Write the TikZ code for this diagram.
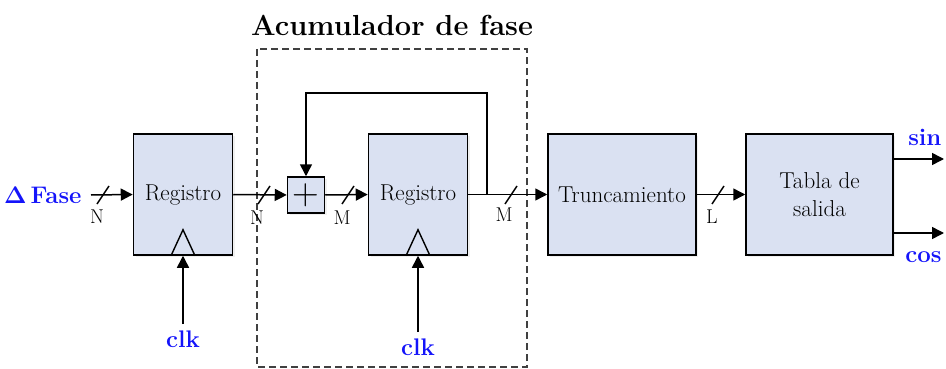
\documentclass[tikz,border=0pt]{standalone}
\usetikzlibrary{arrows.meta,shadows}
\definecolor{boxfill}{RGB}{218,225,242}
\definecolor{sigblue}{RGB}{20,20,250}
\begin{document}
\begin{tikzpicture}[x=1pt,y=-1pt,
  blk/.style={draw=black,line width=1.5pt,fill=boxfill,minimum height=121pt,
    inner sep=0pt,font=\fontsize{23}{27}\selectfont,
    drop shadow={opacity=0.12,shadow xshift=2pt,shadow yshift=-2pt}},
  wire/.style={line width=1.5pt,-{Triangle[length=12pt,width=12pt]}},
  plain/.style={line width=1.4pt},
  bus/.style={font=\fontsize{20}{24}\selectfont},
  sig/.style={text=sigblue,font=\fontsize{24}{28}\selectfont\bfseries},
]
\useasboundingbox (0,0) rectangle (946,369);

% dashed accumulator frame
\draw[line width=1.3pt,draw=black!75,dash pattern=on 7pt off 4pt] (257,49) rectangle (527,367);
\node[font=\fontsize{29}{33}\selectfont\bfseries] (title) at (392,25) {Acumulador de fase};

% blocks
\node[blk,minimum width=99pt] (r1) at (183,194.5) {Registro};
\node[blk,minimum width=37pt,minimum height=36pt,font=\fontsize{37}{40}\selectfont] (add) at (306,195) {+};
\node[blk,minimum width=99pt] (r2) at (418,194.5) {Registro};
\node[blk,minimum width=148pt] (tr) at (622,194.5) {Truncamiento};
\node[blk,minimum width=147pt,align=center] (tab) at (819.5,194.5) {Tabla de\\[1pt]salida};

% clock triangles
\draw[plain] ([xshift=-12pt]r1.south) -- ([yshift=26pt]r1.south) -- ([xshift=12pt]r1.south);
\draw[plain] ([xshift=-12pt]r2.south) -- ([yshift=26pt]r2.south) -- ([xshift=12pt]r2.south);

% signals
\node[sig,anchor=east] (fase) at (85,195) {Δ\,Fase};
\node[sig] (clk1) at (183,339) {clk};
\node[sig] (clk2) at (418,347) {clk};
\node[sig,anchor=east] (sin) at (945,137) {sin};
\node[sig,anchor=east] (cos) at (945,257) {cos};

\coordinate (fb) at (487,195);
\coordinate (sinend) at (944,159);
\coordinate (cosend) at (944,233);

% wires
\draw[wire] ([xshift=6pt]fase.east) -- (r1.west);
\draw[wire] (r1.east) -- (add.west);
\draw[wire] (add.east) -- (r2.west);
\draw[wire] (r2.east) -- (tr.west);
\draw[wire] (fb) -- ++(0,-102) -| (add.north);
\draw[wire] (tr.east) -- (tab.west);
\draw[wire] (tab.east |- sinend) -- (sinend);
\draw[wire] (tab.east |- cosend) -- (cosend);
\draw[wire] ([yshift=3pt]clk1.north) -- (r1.south);
\draw[wire] ([yshift=3pt]clk2.north) -- (r2.south);

% bus slashes
\foreach \sx in {103,264,348,511,718}
  \draw[line width=1.4pt] (\sx-6,204) -- (\sx+6,186);

% bus widths
\node[bus] (n1) at (97,217) {N};
\node[bus] (n2) at (257,218) {N};
\node[bus] (m1) at (342,218) {M};
\node[bus] (m2) at (504,215) {M};
\node[bus] (l1) at (712,217) {L};
\end{tikzpicture}
\end{document}
